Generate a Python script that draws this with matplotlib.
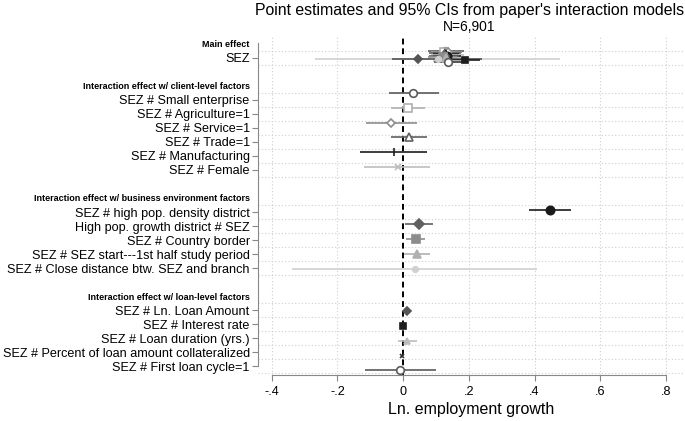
import numpy as np
import matplotlib.pyplot as plt

plt.rcParams['font.family'] = ['Liberation Sans', 'DejaVu Sans']

# Row labels on the y axis (headers in bold, '' = blank spacer row)
headers = ['Main effect',
           'Interaction effect w/ client-level factors',
           'Interaction effect w/ business environment factors',
           'Interaction effect w/ loan-level factors']
row_labels = ['Main effect', 'SEZ', '',
              'Interaction effect w/ client-level factors',
              'SEZ # Small enterprise', 'SEZ # Agriculture=1', 'SEZ # Service=1',
              'SEZ # Trade=1', 'SEZ # Manufacturing', 'SEZ # Female', '',
              'Interaction effect w/ business environment factors',
              'SEZ # high pop. density district', 'High pop. growth district # SEZ',
              'SEZ # Country border', 'SEZ # SEZ start---1st half study period',
              'SEZ # Close distance btw. SEZ and branch', '',
              'Interaction effect w/ loan-level factors',
              'SEZ # Ln. Loan Amount', 'SEZ # Interest rate',
              'SEZ # Loan duration (yrs.)', 'SEZ # Percent of loan amount collateralized',
              'SEZ # First loan cycle=1']

# one model per interaction term
models = ['SEZ # Small enterprise', 'SEZ # Agriculture=1', 'SEZ # Service=1',
          'SEZ # Trade=1', 'SEZ # Manufacturing', 'SEZ # Female',
          'SEZ # high pop. density district', 'High pop. growth district # SEZ',
          'SEZ # Country border', 'SEZ # SEZ start---1st half study period',
          'SEZ # Close distance btw. SEZ and branch', 'SEZ # Ln. Loan Amount',
          'SEZ # Interest rate', 'SEZ # Loan duration (yrs.)',
          'SEZ # Percent of loan amount collateralized', 'SEZ # First loan cycle=1']

# interaction coefficient and 95% CI
int_est = [0.030, 0.014, -0.038, 0.018, -0.028, -0.017, 0.446, 0.049, 0.038, 0.041,
           0.037, 0.013, -0.002, 0.013, -0.004, -0.009]
int_lo = [-0.043, -0.037, -0.114, -0.038, -0.131, -0.118, 0.383, 0.006, 0.009, 0.003,
          -0.338, 0.006, -0.006, -0.015, -0.007, -0.116]
int_hi = [0.109, 0.065, 0.042, 0.073, 0.073, 0.082, 0.511, 0.091, 0.066, 0.082,
          0.408, 0.021, 0.002, 0.042, 0.000, 0.101]

# SEZ main effect from each model
main_est = [0.128, 0.125, 0.135, 0.128, 0.130, 0.135, 0.132, 0.125, 0.120, 0.130,
            0.105, 0.045, 0.189, 0.140, 0.140, 0.137]
main_lo = [0.075, 0.085, 0.090, 0.080, 0.090, 0.085, 0.090, 0.080, 0.075, 0.085,
           -0.268, -0.034, 0.100, 0.090, 0.100, 0.095]
main_hi = [0.185, 0.165, 0.180, 0.175, 0.170, 0.185, 0.175, 0.170, 0.165, 0.200,
           0.476, 0.240, 0.235, 0.200, 0.180, 0.180]

# Stata-like mono plot styles
colors = ['#5a5a5a', '#b0b0b0', '#8c8c8c', '#606060', '#1e1e1e', '#bdbdbd',
          '#1a1a1a', '#606060', '#8c8c8c', '#b0b0b0', '#d0d0d0', '#555555',
          '#1e1e1e', '#bdbdbd', '#333333', '#5a5a5a']
markers = ['o', 's', 'D', '^', '|', 'x', 'o', 'D', 's', '^', 'o', 'D', 's', '^', 'x', 'o']
hollow = [True, True, True, True, False, False, False, False, False, False,
          False, False, False, False, False, True]
msizes = [5.5, 5.5, 4.5, 5.5, 6, 4, 6, 5, 5.5, 5.5, 4, 4, 4, 4, 3.5, 5.5]

n_rows = len(row_labels)
rows = np.arange(n_rows)
coef_rows = [i for i, lab in enumerate(row_labels) if lab and lab not in headers]

fig = plt.figure(figsize=(6.85, 4.21), dpi=100)
ax = fig.add_axes([0.3766, 0.1093, 0.6220, 0.8052])

# grid lines between coefficient rows
grid_y = sorted(set([r - 0.5 for r in coef_rows] + [r + 0.5 for r in coef_rows]))
for gy in grid_y:
    ax.axhline(gy, color='#cfcfcf', lw=0.8, ls=(0, (1, 2)), zorder=0)
xticks = [-0.4, -0.2, 0, 0.2, 0.4, 0.6, 0.8]
for xt in xticks:
    if xt != 0:
        ax.axvline(xt, color='#cfcfcf', lw=0.8, ls=(0, (1, 2)), zorder=0)
ax.axvline(0, color='black', lw=1.4, ls=(0, (3, 2)), zorder=1)

for i, m in enumerate(models):
    off = -0.5 + 0.054 * i
    mrow = row_labels.index('SEZ') + off
    irow = row_labels.index(m) + off
    mfc = 'white' if hollow[i] else colors[i]
    for y, est, lo, hi in [(mrow, main_est[i], main_lo[i], main_hi[i]),
                           (irow, int_est[i], int_lo[i], int_hi[i])]:
        ax.plot([lo, hi], [y, y], color=colors[i], lw=1.2, solid_capstyle='butt', zorder=2)
        ax.plot(est, y, marker=markers[i], color=colors[i], mfc=mfc, mec=colors[i],
                ms=msizes[i], mew=1.2, zorder=3)

ax.set_xlim(-0.442, 0.855)
ax.set_ylim(23.64, -0.57)
ax.set_yticks(rows)
ax.set_yticklabels(row_labels, fontsize=9.1)
ax.tick_params(axis='y', length=4, width=0.8, color='#888888', pad=2)
for tick, lab in zip(ax.yaxis.get_major_ticks(), row_labels):
    if lab in headers or lab == '':
        tick.tick1line.set_visible(False)
    if lab in headers:
        tick.label1.set_fontsize(6.5)
        tick.label1.set_fontweight('bold')

ax.set_xticks(xticks)
ax.set_xticklabels(['-.4', '-.2', '0', '.2', '.4', '.6', '.8'], fontsize=9.1)
ax.tick_params(axis='x', length=4, width=0.8, color='#888888', pad=4)
ax.set_xlabel('Ln. employment growth', fontsize=11.5, labelpad=3)

for s in ['top', 'right']:
    ax.spines[s].set_visible(False)
ax.spines['left'].set_bounds(-0.1, 23.0)
ax.spines['left'].set_color('#888888')
ax.spines['bottom'].set_bounds(-0.4, 0.8)
ax.spines['bottom'].set_color('#888888')

fig.text(0.685, 0.976, "Point estimates and 95% CIs from paper's interaction models",
         ha='center', va='center', fontsize=11.4)
fig.text(0.685, 0.935, 'N=6,901', ha='center', va='center', fontsize=10)

plt.savefig('out.png', dpi=100)
